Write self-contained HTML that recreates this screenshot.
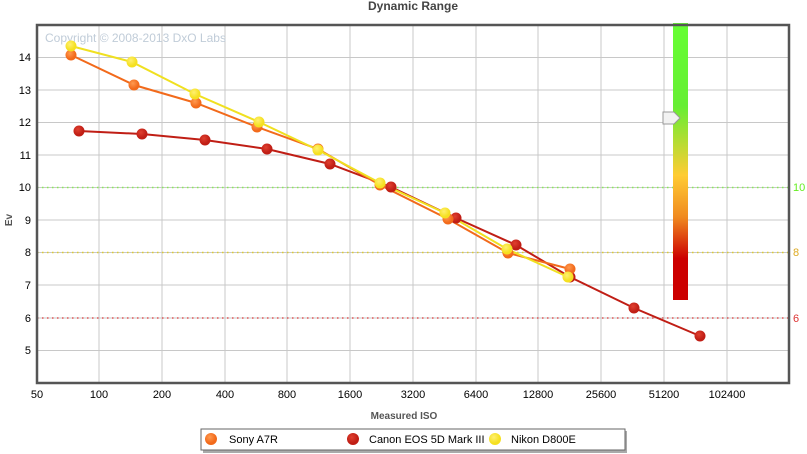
<!DOCTYPE html><html><head><style>body{margin:0;background:#fff}svg{display:block;font-family:"Liberation Sans",sans-serif}</style></head><body>
<svg width="807" height="454" xmlns="http://www.w3.org/2000/svg">
<defs><linearGradient id="g" x1="0" y1="0" x2="0" y2="1">
<stop offset="0" stop-color="#66ff33"/><stop offset="0.3" stop-color="#66ee33"/><stop offset="0.55" stop-color="#ffcc33"/><stop offset="0.7" stop-color="#f08a20"/><stop offset="0.85" stop-color="#cc0000"/><stop offset="1" stop-color="#cc0000"/></linearGradient>
<radialGradient id="so" cx="0.4" cy="0.35"><stop offset="0" stop-color="#ff9a50"/><stop offset="1" stop-color="#f26a1b"/></radialGradient>
<radialGradient id="ca" cx="0.4" cy="0.35"><stop offset="0" stop-color="#e04030"/><stop offset="1" stop-color="#c01e15"/></radialGradient>
<radialGradient id="ni" cx="0.4" cy="0.35"><stop offset="0" stop-color="#fff070"/><stop offset="1" stop-color="#f5e020"/></radialGradient></defs>
<text x="413" y="10" text-anchor="middle" font-size="12" font-weight="bold" fill="#444">Dynamic Range</text>
<g stroke="#c8c8c8" stroke-width="1">
<line x1="99" y1="25" x2="99" y2="383"/><line x1="162" y1="25" x2="162" y2="383"/><line x1="225" y1="25" x2="225" y2="383"/><line x1="287" y1="25" x2="287" y2="383"/><line x1="350" y1="25" x2="350" y2="383"/><line x1="413" y1="25" x2="413" y2="383"/><line x1="476" y1="25" x2="476" y2="383"/><line x1="538" y1="25" x2="538" y2="383"/><line x1="601" y1="25" x2="601" y2="383"/><line x1="664" y1="25" x2="664" y2="383"/><line x1="727" y1="25" x2="727" y2="383"/>
<line x1="37" y1="57.5" x2="789" y2="57.5"/><line x1="37" y1="90" x2="789" y2="90"/><line x1="37" y1="122.5" x2="789" y2="122.5"/><line x1="37" y1="155" x2="789" y2="155"/><line x1="37" y1="187.5" x2="789" y2="187.5"/><line x1="37" y1="220" x2="789" y2="220"/><line x1="37" y1="252.5" x2="789" y2="252.5"/><line x1="37" y1="285" x2="789" y2="285"/><line x1="37" y1="318" x2="789" y2="318"/><line x1="37" y1="350.5" x2="789" y2="350.5"/>
</g>
<g stroke-width="1.5" stroke-dasharray="1.5,3.5"><line x1="37" y1="187.5" x2="789" y2="187.5" stroke="#88ee55"/><line x1="37" y1="252.5" x2="789" y2="252.5" stroke="#ddcc33"/><line x1="37" y1="318" x2="789" y2="318" stroke="#dd5555"/></g>
<text x="45" y="42" font-size="12" fill="#c0ccd8">Copyright © 2008-2013 DxO Labs</text>
<rect x="673" y="23" width="15" height="277" fill="url(#g)"/>
<path d="M663 112 H674 L680 118 L674 124 H663 Z" fill="#f2f2f2" stroke="#999"/>
<path d="M37 25 V383 H789 V25 Z" fill="none" stroke="#555" stroke-width="2.5"/>
<g font-size="11" fill="#000" text-anchor="end"><text x="31" y="61">14</text><text x="31" y="94">13</text><text x="31" y="126">12</text><text x="31" y="159">11</text><text x="31" y="191">10</text><text x="31" y="224">9</text><text x="31" y="256">8</text><text x="31" y="289">7</text><text x="31" y="322">6</text><text x="31" y="354">5</text></g>
<g font-size="11" text-anchor="start"><text x="793" y="191" fill="#66ee22">10</text><text x="793" y="256" fill="#ddaa22">8</text><text x="793" y="322" fill="#dd3333">6</text></g>
<g font-size="11" text-anchor="middle"><text x="37" y="398">50</text><text x="99" y="398">100</text><text x="162" y="398">200</text><text x="225" y="398">400</text><text x="287" y="398">800</text><text x="350" y="398">1600</text><text x="413" y="398">3200</text><text x="476" y="398">6400</text><text x="538" y="398">12800</text><text x="601" y="398">25600</text><text x="664" y="398">51200</text><text x="727" y="398">102400</text></g>
<text x="404" y="419" text-anchor="middle" font-size="10" font-weight="bold" fill="#555">Measured ISO</text>
<text transform="translate(12,220) rotate(-90)" text-anchor="middle" font-size="10" font-weight="bold" fill="#555">Ev</text>
<polyline fill="none" stroke="#c01e15" stroke-width="2" points="79,131 142,134 205,140 267,149 330,164 391,187 456,218 516,245 570,277 634,308 700,336"/>
<polyline fill="none" stroke="#f26a1b" stroke-width="2" points="71,55 134,85 196,103 257,127 318,149 380,185 448,219 508,253 570,269"/>
<polyline fill="none" stroke="#f0e020" stroke-width="2" points="71,46 132,62 195,94 259,122 318,150 380,183 445,213 507,249 568,277"/>
<g fill="url(#ca)"><circle cx="79" cy="131" r="5.5"/><circle cx="142" cy="134" r="5.5"/><circle cx="205" cy="140" r="5.5"/><circle cx="267" cy="149" r="5.5"/><circle cx="330" cy="164" r="5.5"/><circle cx="391" cy="187" r="5.5"/><circle cx="456" cy="218" r="5.5"/><circle cx="516" cy="245" r="5.5"/><circle cx="570" cy="277" r="5.5"/><circle cx="634" cy="308" r="5.5"/><circle cx="700" cy="336" r="5.5"/></g>
<g fill="url(#so)"><circle cx="71" cy="55" r="5.5"/><circle cx="134" cy="85" r="5.5"/><circle cx="196" cy="103" r="5.5"/><circle cx="257" cy="127" r="5.5"/><circle cx="318" cy="149" r="5.5"/><circle cx="380" cy="185" r="5.5"/><circle cx="448" cy="219" r="5.5"/><circle cx="508" cy="253" r="5.5"/><circle cx="570" cy="269" r="5.5"/></g>
<g fill="url(#ni)"><circle cx="71" cy="46" r="5.5"/><circle cx="132" cy="62" r="5.5"/><circle cx="195" cy="94" r="5.5"/><circle cx="259" cy="122" r="5.5"/><circle cx="318" cy="150" r="5.5"/><circle cx="380" cy="183" r="5.5"/><circle cx="445" cy="213" r="5.5"/><circle cx="507" cy="249" r="5.5"/><circle cx="568" cy="277" r="5.5"/></g>
<rect x="203" y="431" width="424" height="22" fill="#aaa"/>
<rect x="201" y="429" width="424" height="21" fill="#fff" stroke="#666"/>
<circle cx="211" cy="439" r="6" fill="url(#so)"/><text x="229" y="443" font-size="11">Sony A7R</text>
<circle cx="353" cy="439" r="6" fill="url(#ca)"/><text x="369" y="443" font-size="11">Canon EOS 5D Mark III</text>
<circle cx="495" cy="439" r="6" fill="url(#ni)"/><text x="511" y="443" font-size="11">Nikon D800E</text>
</svg></body></html>
